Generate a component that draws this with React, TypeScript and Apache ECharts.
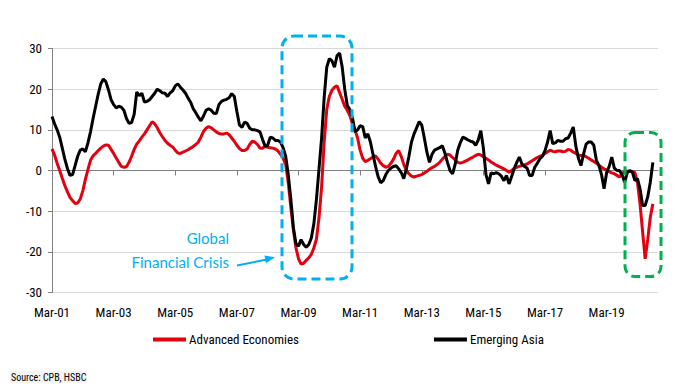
import React, { useEffect, useRef } from "react";
import * as echarts from "echarts";

const MONTHS = ["Jan", "Feb", "Mar", "Apr", "May", "Jun", "Jul", "Aug", "Sep", "Oct", "Nov", "Dec"];
const START_YEAR = 2001;
const START_MONTH = 2; // March
const CATEGORY_COUNT = 237; // Mar-01 .. Nov-20
const categories: string[] = Array.from({ length: CATEGORY_COUNT }, (_, i) => {
  const k = START_MONTH + i;
  const y = START_YEAR + Math.floor(k / 12);
  return `${MONTHS[k % 12]}-${String(y % 100).padStart(2, "0")}`;
});

const seriesNames = ["Advanced Economies", "Emerging Asia"];

// Advanced Economies (red), monthly from Mar-01
const advancedEconomies = [
  5.3, 3.8, 1.8, 0.0, -1.9, -3.7, -5.2, -6.6, -7.4, -8.1,
  -8.0, -7.0, -5.0, -2.2, 0.2, 2.5, 3.6, 4.2, 4.9, 5.5,
  6.0, 6.3, 6.2, 5.2, 4.2, 3.1, 2.0, 1.0, 0.8, 0.9,
  2.0, 3.5, 5.2, 6.5, 7.3, 8.2, 9.0, 10.0, 11.0, 12.0,
  11.5, 10.5, 9.3, 8.3, 7.4, 6.7, 6.2, 5.8, 5.0, 4.3,
  4.2, 4.5, 4.8, 5.1, 5.5, 5.9, 6.4, 7.0, 8.2, 9.6,
  10.4, 10.8, 10.5, 10.0, 9.5, 9.1, 9.0, 9.0, 9.2, 8.8,
  8.0, 7.2, 6.2, 5.4, 4.9, 4.9, 5.3, 6.4, 7.2, 7.0,
  6.4, 5.5, 5.5, 5.9, 5.7, 5.6, 5.5, 5.3, 4.8, 4.0,
  3.0, 1.5, -3.0, -9.0, -14.5, -19.0, -21.7, -23.0, -22.8, -22.1,
  -21.5, -20.6, -19.0, -16.8, -11.5, -4.0, 7.0, 15.0, 18.2, 19.7,
  20.5, 20.8, 19.2, 17.5, 15.8, 14.8, 13.5, 11.5, 10.0, 8.0,
  5.0, 3.0, 2.2, 2.5, 2.9, 3.3, 3.6, 2.8, 1.8, 1.2,
  0.8, 1.0, 1.8, 2.8, 4.2, 4.9, 3.5, 1.5, 0.0, -0.8,
  -1.4, -1.6, -1.4, -1.2, -1.0, -0.6, -0.2, 0.3, 0.7, 1.0,
  1.5, 2.0, 2.8, 3.4, 4.0, 3.8, 3.2, 2.6, 2.0, 1.8,
  2.0, 2.3, 2.6, 3.0, 3.3, 3.7, 4.0, 3.8, 3.4, 3.0,
  2.6, 2.1, 1.7, 1.3, 1.0, 0.7, 0.4, 0.0, -0.4, 0.0,
  0.5, 0.8, 1.0, 1.2, 1.4, 1.6, 2.0, 2.4, 2.8, 3.2,
  3.5, 3.7, 4.2, 4.6, 5.0, 4.7, 4.6, 4.8, 4.8, 4.6,
  4.7, 5.2, 5.0, 4.5, 4.2, 3.8, 3.7, 3.7, 3.4, 3.0,
  2.6, 2.2, 1.8, 1.3, 0.8, 0.4, 0.1, -0.3, -0.6, -0.8,
  -1.2, -1.6, -0.8, -0.2, -0.2, -0.2, -0.3, -0.5, -2.9, -8.2,
  -15.0, -21.7, -17.0, -11.5, -8.2,
];

// Emerging Asia (black), monthly from Mar-01
const emergingAsia = [
  13.3, 11.5, 10.0, 8.2, 5.5, 2.8, 0.5, -1.2, -1.0, 1.2,
  3.5, 5.0, 5.3, 4.6, 6.8, 9.5, 12.8, 15.8, 18.8, 21.3,
  22.5, 21.8, 19.8, 17.4, 16.2, 15.4, 15.8, 15.6, 14.8, 12.8,
  11.6, 11.8, 13.8, 19.3, 18.4, 19.0, 16.8, 17.0, 17.4, 18.2,
  19.0, 20.0, 19.6, 19.1, 19.0, 18.2, 19.1, 19.6, 20.8, 21.3,
  20.5, 19.8, 19.0, 17.8, 16.8, 15.2, 14.2, 13.1, 12.2, 13.4,
  14.8, 15.2, 14.8, 14.1, 14.0, 16.2, 17.0, 17.3, 17.5, 17.9,
  18.9, 18.2, 14.5, 11.2, 10.6, 11.9, 11.6, 10.4, 10.0, 10.0,
  9.8, 9.5, 7.6, 6.0, 6.2, 8.2, 8.0, 7.4, 7.4, 7.0,
  5.6, 3.5, -1.0, -7.0, -14.0, -18.0, -18.6, -17.0, -18.2, -18.9,
  -18.2, -16.6, -13.0, -7.0, 0.5, 8.0, 18.0, 25.4, 27.5, 27.0,
  25.4, 28.2, 28.9, 25.5, 20.0, 16.0, 15.0, 13.0, 9.5, 10.0,
  11.0, 10.8, 8.0, 9.0, 7.0, 4.0, 1.0, -1.5, -3.0, -2.5,
  -1.0, 0.0, 0.6, 1.0, 1.2, 0.4, -0.5, -2.0, 0.4, 3.5,
  7.0, 9.0, 10.5, 12.0, 11.2, 8.0, 4.5, 2.0, 4.0, 5.0,
  5.3, 5.6, 6.1, 4.3, 2.0, 0.0, -0.8, 1.5, 5.0, 6.8,
  8.2, 7.9, 7.5, 7.2, 7.0, 6.2, 7.5, 9.8, 5.5, -1.0,
  -3.3, -0.6, -0.8, -0.5, -0.8, -1.4, -2.5, -1.2, -3.3, -1.5,
  0.5, 2.0, 3.3, 1.6, 1.0, 0.6, -1.2, -1.2, 0.8, 1.8,
  2.9, 3.5, 4.9, 7.0, 9.8, 6.6, 6.8, 7.4, 7.2, 7.2,
  7.8, 8.0, 9.2, 10.7, 6.0, 3.0, 1.2, 4.0, 6.5, 7.0,
  7.0, 6.2, 2.5, 1.2, -1.0, -4.5, -0.5, 1.0, 3.3, 0.6,
  0.0, 0.0, -1.0, -2.9, -0.6, 0.0, -0.4, -2.5, -2.0, -4.5,
  -8.6, -8.6, -6.5, -2.9, 2.0,
];

const NARROW = "'Liberation Sans Narrow', 'Arial Narrow', 'Roboto Condensed', 'Liberation Sans', sans-serif";
const RED = "#e3000f";
const BLACK = "#000000";
const BLUE = "#00b0f0";
const GREEN = "#00b050";

export default function App() {
  const ref = useRef<HTMLDivElement>(null);

  useEffect(() => {
    document.body.style.margin = "0";
    if (!ref.current) return;
    const chart = echarts.init(ref.current, undefined, { renderer: "svg" });

    // arrow geometry
    const tip = [275, 257.3];
    const head = [
      tip,
      [266.0, 263.2],
      [264.4, 255.4],
    ];

    chart.setOption({
      animation: false,
      backgroundColor: "#ffffff",
      grid: { left: 52, right: 39, top: 48.5, bottom: 99.5, containLabel: false },
      legend: {
        data: seriesNames,
        left: 153,
        top: 333,
        padding: 0,
        icon: "rect",
        itemWidth: 33,
        itemHeight: 4,
        itemGap: 135,
        textStyle: { fontFamily: NARROW, fontSize: 13, color: "#000", padding: [0, 0, 0, -2] },
      },
      xAxis: [
        {
          type: "category",
          data: categories,
          boundaryGap: false,
          position: "bottom",
          axisLine: { show: false, onZero: false },
          axisTick: { show: false },
          axisLabel: {
            interval: 23,
            fontFamily: NARROW,
            fontSize: 13,
            color: "#000",
            margin: 13,
          },
          splitLine: { show: false },
        },
        {
          type: "category",
          data: categories,
          boundaryGap: false,
          position: "bottom",
          axisLine: { show: true, onZero: true, lineStyle: { color: "#808080", width: 1.2 } },
          axisTick: { show: true, interval: 23, length: 5, lineStyle: { color: "#808080" } },
          axisLabel: { show: false },
          splitLine: { show: false },
        },
      ],
      yAxis: {
        type: "value",
        min: -30,
        max: 30,
        interval: 10,
        axisLine: { show: true, lineStyle: { color: "#808080" } },
        axisTick: { show: true, length: 4, lineStyle: { color: "#808080" } },
        axisLabel: { fontFamily: NARROW, fontSize: 13, color: "#000", margin: 10 },
        splitLine: { show: true, lineStyle: { color: "#d9d9d9", width: 1 } },
      },
      series: [
        {
          name: seriesNames[0],
          type: "line",
          xAxisIndex: 0,
          data: advancedEconomies,
          showSymbol: false,
          symbol: "none",
          lineStyle: { color: RED, width: 3 },
          itemStyle: { color: RED },
          z: 2,
        },
        {
          name: seriesNames[1],
          type: "line",
          xAxisIndex: 0,
          data: emergingAsia,
          showSymbol: false,
          symbol: "none",
          lineStyle: { color: BLACK, width: 3 },
          itemStyle: { color: BLACK },
          z: 3,
        },
      ],
      graphic: [
        {
          type: "rect",
          shape: { x: 282, y: 36, width: 70, height: 243, r: 12 },
          style: { fill: "none", stroke: BLUE, lineWidth: 3, lineDash: [9, 5] },
          z: 10,
        },
        {
          type: "rect",
          shape: { x: 625, y: 132.5, width: 36, height: 144, r: 10 },
          style: { fill: "none", stroke: GREEN, lineWidth: 3, lineDash: [9, 5] },
          z: 10,
        },
        {
          type: "text",
          x: 229,
          y: 238,
          style: {
            text: "Global",
            fill: BLUE,
            fontSize: 15,
            fontFamily: "Lato, 'Open Sans', sans-serif",
            align: "right",
            verticalAlign: "middle",
          },
        },
        {
          type: "text",
          x: 229,
          y: 262,
          style: {
            text: "Financial Crisis",
            fill: BLUE,
            fontSize: 15,
            fontFamily: "Lato, 'Open Sans', sans-serif",
            align: "right",
            verticalAlign: "middle",
          },
        },
        {
          type: "polyline",
          shape: { points: [[237, 265.5], [267, 259.5]] },
          style: { stroke: BLUE, lineWidth: 2, fill: "none" },
        },
        {
          type: "polygon",
          shape: { points: head },
          style: { fill: BLUE },
        },
        {
          type: "text",
          x: 10,
          y: 377,
          style: {
            text: "Source: CPB, HSBC",
            fill: "#000",
            fontSize: 10,
            fontFamily: NARROW,
            align: "left",
            verticalAlign: "middle",
            backgroundColor: "#f4f4f4",
            padding: [1, 1],
          },
        },
      ],
    });

    return () => chart.dispose();
  }, []);

  return <div ref={ref} style={{ width: 697, height: 392 }} />;
}
